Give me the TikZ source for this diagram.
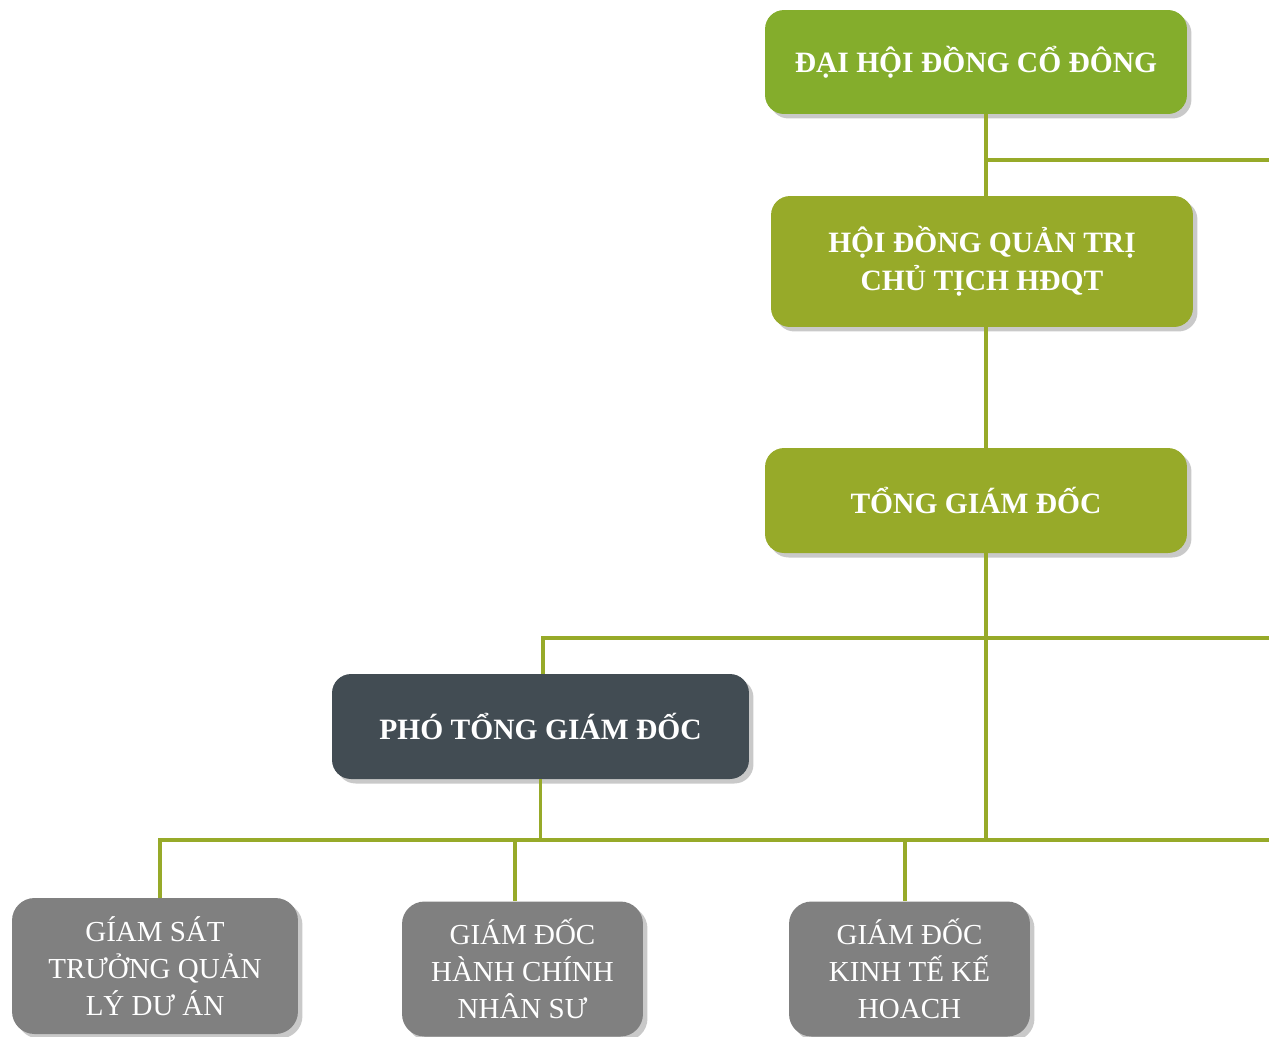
\documentclass[tikz,border=0pt]{standalone}
\usepackage{fontspec}
\setmainfont{Liberation Serif}
\usetikzlibrary{positioning,shadows}

\definecolor{topgreen}{HTML}{84AD2C}
\definecolor{olive}{HTML}{97AA29}
\definecolor{slate}{HTML}{424C53}
\definecolor{boxgray}{HTML}{808080}

\begin{document}
\begin{tikzpicture}[x=0.02cm, y=-0.02cm,
    card/.style={rounded corners=0.38cm, text=white, align=center, inner sep=0pt,
        drop shadow={shadow xshift=0.09cm, shadow yshift=-0.09cm, opacity=0.3, fill=black!70}},
    head/.style={card, minimum width=8.44cm, font=\fontsize{16.8}{21.5}\selectfont\bfseries},
    dept/.style={card, fill=boxgray, minimum height=2.7cm, rounded corners=0.45cm, font=\fontsize{16.5}{21}\selectfont},
    link/.style={olive, line width=0.07cm}]
    \useasboundingbox (0,0) rectangle (1269,1036);

    % Board levels
    \node[head, fill=topgreen, minimum height=2.08cm] (dhcd) at (976,62) {ĐẠI HỘI ĐỒNG CỔ ĐÔNG};
    \node[head, fill=olive, minimum height=2.62cm] (hdqt) at (982,261.5) {HỘI ĐỒNG QUẢN TRỊ\\CHỦ TỊCH HĐQT};
    \node[head, fill=olive, minimum height=2.1cm] (tgd) at (976,500.5) {TỔNG GIÁM ĐỐC};
    \node[head, fill=slate, minimum width=8.34cm, minimum height=2.1cm] (pho) at (540.5,726.5) {PHÓ TỔNG GIÁM ĐỐC};

    % Departments
    \node[dept, minimum width=5.72cm, minimum height=2.72cm] (gs) at (155,966) {GÍAM SÁT\\TRƯỞNG QUẢN\\LÝ DƯ ÁN};
    \node[dept, minimum width=4.82cm] (hc) at (522.5,969) {GIÁM ĐỐC\\HÀNH CHÍNH\\NHÂN SƯ};
    \node[dept, minimum width=4.82cm] (kt) at (909.5,969) {GIÁM ĐỐC\\KINH TẾ KẾ\\HOACH};

    % Connectors
    \coordinate (trunk) at (986,0);
    \coordinate (edge) at (1269,0);
    \coordinate (b1) at (986,160);
    \coordinate (b2) at (543,638);
    \coordinate (bus) at (160,840);
    \coordinate (d2) at (515,840);
    \coordinate (d3) at (905,840);
    \draw[link] (dhcd.south -| trunk) -- (hdqt.north -| trunk);
    \draw[link] (hdqt.south -| trunk) -- (tgd.north -| trunk);
    \draw[link] (tgd.south -| trunk) -- (trunk |- bus);
    \draw[link] (b1) -- (b1 -| edge);
    \draw[link] (pho.north -| b2) -- (b2) -- (b2 -| edge);
    \draw[link] (pho.south) -- (pho.south |- bus);
    \draw[link] (gs.north -| bus) -- (bus) -- (bus -| edge);
    \draw[link] (d2) -- (d2 |- hc.north);
    \draw[link] (d3) -- (d3 |- kt.north);
\end{tikzpicture}
\end{document}
